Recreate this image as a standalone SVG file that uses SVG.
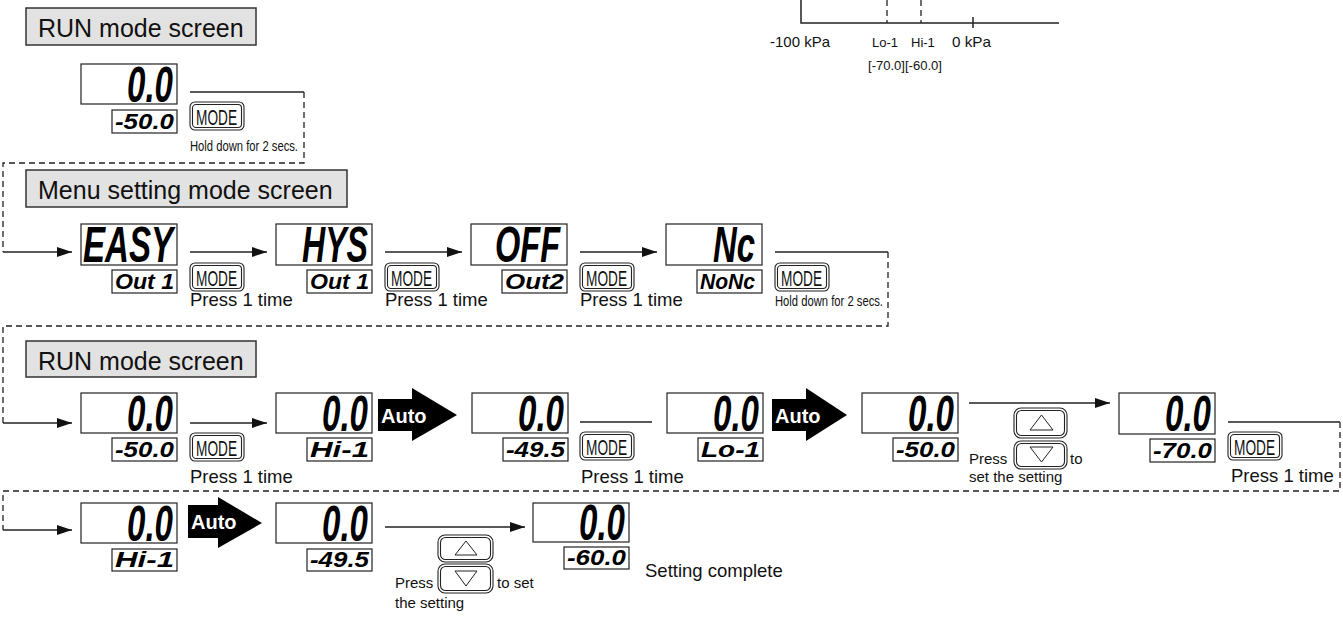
<svg xmlns="http://www.w3.org/2000/svg" width="1343" height="619" viewBox="0 0 1343 619">
<style>
  .lbl { fill: #e2e2e2; stroke: #333; stroke-width: 1.5; }
  .lbltxt { font-family: "Liberation Sans", Arial, sans-serif; font-size: 25px; fill: #111; }
  .box { fill: #fff; stroke: #222; stroke-width: 1.2; }
  .big { font-family: "Liberation Sans", Arial, sans-serif; font-weight: bold; font-style: italic; font-size: 34px; fill: #000; }
  .small { font-family: "Liberation Sans", Arial, sans-serif; font-weight: bold; font-style: italic; font-size: 22px; fill: #000; }
  .btn { fill: #fff; stroke: #222; stroke-width: 1.1; }
  .btntxt { font-family: "Liberation Sans", Arial, sans-serif; font-size: 22px; fill: #111; }
  .t18 { font-family: "Liberation Sans", Arial, sans-serif; font-size: 18.5px; fill: #111; }
  .t15 { font-family: "Liberation Sans", Arial, sans-serif; font-size: 15px; fill: #111; }
  .t13 { font-family: "Liberation Sans", Arial, sans-serif; font-size: 13px; fill: #111; }
  .hold { font-family: "Liberation Sans", Arial, sans-serif; font-size: 15px; fill: #111; }
  .ln { fill: none; stroke: #222; stroke-width: 1.5; }
  .dash { fill: none; stroke: #222; stroke-width: 1.3; stroke-dasharray: 6 4; }
  .auto { fill: #000; }
  .autotxt { font-family: "Liberation Sans", Arial, sans-serif; font-weight: bold; font-size: 20px; fill: #fff; }
  .tri { fill: #fff; stroke: #222; stroke-width: 1; }
</style>
<defs>
  <marker id="ah" markerUnits="userSpaceOnUse" markerWidth="15" markerHeight="10" refX="15" refY="5" orient="auto">
    <path d="M0,0 L15,5 L0,10 Z" fill="#111"/>
  </marker>
  <g id="modebtn">
    <rect x="0" y="0" width="54" height="28" rx="5" class="btn"/>
    <rect x="2.5" y="2.5" width="49" height="23" rx="3.5" class="btn"/>
    <text x="6" y="22.5" class="btntxt" textLength="41" lengthAdjust="spacingAndGlyphs">MODE</text>
  </g>
</defs>

<!-- top-right chart -->
<g id="chart">
  <path class="ln" d="M801,0 V23 H1059"/>
  <path class="dash" d="M887,0 V23 M921,0 V23"/>
  <path class="ln" d="M973,17 V28"/>
  <text x="770" y="47" class="t15" textLength="60" lengthAdjust="spacingAndGlyphs">-100 kPa</text>
  <text x="872" y="47" class="t13">Lo-1</text>
  <text x="911" y="47" class="t13">Hi-1</text>
  <text x="952" y="47" class="t15" textLength="39" lengthAdjust="spacingAndGlyphs">0 kPa</text>
  <text x="868" y="70" class="t13" textLength="74" lengthAdjust="spacingAndGlyphs">[-70.0][-60.0]</text>
</g>

<!-- section labels -->
<g id="label-run1"><rect x="26" y="8" width="230" height="37" class="lbl"/><text x="38" y="36.5" class="lbltxt">RUN mode screen</text></g>
<g id="label-menu"><rect x="26" y="170" width="321" height="37" class="lbl"/><text x="38" y="198.5" class="lbltxt">Menu setting mode screen</text></g>
<g id="label-run2"><rect x="26" y="341" width="230" height="36" class="lbl"/><text x="38" y="369.5" class="lbltxt">RUN mode screen</text></g>

<!-- connectors -->
<g id="connectors">
  <path class="ln" d="M190,92 H304"/>
  <path class="dash" d="M304,92 V163 H3 V252"/>
  <path class="ln" d="M3,252 H72" marker-end="url(#ah)"/>
  <path class="ln" d="M190,252 H267" marker-end="url(#ah)"/>
  <path class="ln" d="M385,252 H462" marker-end="url(#ah)"/>
  <path class="ln" d="M580,252 H657" marker-end="url(#ah)"/>
  <path class="ln" d="M775,252 H888"/>
  <path class="dash" d="M888,252 V326 H3 V423"/>
  <path class="ln" d="M3,423 H72" marker-end="url(#ah)"/>
  <path class="ln" d="M190,423 H267" marker-end="url(#ah)"/>
  <path class="ln" d="M580,422 H652"/>
  <path class="ln" d="M969,403 H1110" marker-end="url(#ah)"/>
  <path class="ln" d="M1228,422 H1340"/>
  <path class="dash" d="M1340,422 V491 H3 V530"/>
  <path class="ln" d="M3,530 H72" marker-end="url(#ah)"/>
  <path class="ln" d="M385,527 H525" marker-end="url(#ah)"/>
</g>

<!-- top RUN display -->
<g id="d-run-top">
  <rect x="81" y="64" width="96" height="40" class="box"/>
  <text transform="translate(127,102) scale(1,1.45)" class="big" textLength="46" lengthAdjust="spacingAndGlyphs">0.0</text>
  <rect x="112" y="110" width="65" height="23" class="box"/>
  <text x="115" y="129" class="small" textLength="59" lengthAdjust="spacingAndGlyphs">-50.0</text>
</g>
<g id="btn-top">
  <use href="#modebtn" x="190" y="102"/>
  <text x="190" y="151" class="hold" textLength="108" lengthAdjust="spacingAndGlyphs">Hold down for 2 secs.</text>
</g>

<!-- menu row -->
<g id="d-easy">
  <rect x="81" y="224" width="96" height="41" class="box"/>
  <text transform="translate(83,262) scale(1,1.45)" class="big" textLength="90" lengthAdjust="spacingAndGlyphs">EASY</text>
  <rect x="112" y="270" width="65" height="23" class="box"/>
  <text x="115" y="289" class="small" textLength="59" lengthAdjust="spacingAndGlyphs">Out 1</text>
</g>
<g id="btn-m1"><use href="#modebtn" x="190" y="263"/><text x="190" y="306" class="t18">Press 1 time</text></g>
<g id="d-hys">
  <rect x="276" y="224" width="96" height="41" class="box"/>
  <text transform="translate(302,262) scale(1,1.45)" class="big" textLength="66" lengthAdjust="spacingAndGlyphs">HYS</text>
  <rect x="307" y="270" width="65" height="23" class="box"/>
  <text x="310" y="289" class="small" textLength="59" lengthAdjust="spacingAndGlyphs">Out 1</text>
</g>
<g id="btn-m2"><use href="#modebtn" x="385" y="263"/><text x="385" y="306" class="t18">Press 1 time</text></g>
<g id="d-off">
  <rect x="471" y="224" width="96" height="41" class="box"/>
  <text transform="translate(495,262) scale(1,1.45)" class="big" textLength="65" lengthAdjust="spacingAndGlyphs">OFF</text>
  <rect x="502" y="270" width="65" height="23" class="box"/>
  <text x="505" y="289" class="small" textLength="59" lengthAdjust="spacingAndGlyphs">Out2</text>
</g>
<g id="btn-m3"><use href="#modebtn" x="580" y="263"/><text x="580" y="306" class="t18">Press 1 time</text></g>
<g id="d-nc">
  <rect x="666" y="224" width="96" height="41" class="box"/>
  <text transform="translate(713,262) scale(1,1.45)" class="big" textLength="42" lengthAdjust="spacingAndGlyphs">Nc</text>
  <rect x="697" y="270" width="65" height="23" class="box"/>
  <text x="700" y="289" class="small" textLength="55" lengthAdjust="spacingAndGlyphs">NoNc</text>
</g>
<g id="btn-m4"><use href="#modebtn" x="775" y="263"/><text x="775" y="306" class="hold" textLength="108" lengthAdjust="spacingAndGlyphs">Hold down for 2 secs.</text></g>

<!-- RUN row 3 -->
<g id="d-r3c1">
  <rect x="81" y="393" width="96" height="40" class="box"/>
  <text transform="translate(127,431) scale(1,1.45)" class="big" textLength="46" lengthAdjust="spacingAndGlyphs">0.0</text>
  <rect x="112" y="438" width="65" height="23" class="box"/>
  <text x="115" y="457" class="small" textLength="59" lengthAdjust="spacingAndGlyphs">-50.0</text>
</g>
<g id="btn-r3a"><use href="#modebtn" x="190" y="433"/><text x="190" y="483" class="t18">Press 1 time</text></g>
<g id="d-r3c2">
  <rect x="276" y="393" width="96" height="40" class="box"/>
  <text transform="translate(322,431) scale(1,1.45)" class="big" textLength="46" lengthAdjust="spacingAndGlyphs">0.0</text>
  <rect x="307" y="438" width="65" height="23" class="box"/>
  <text x="310" y="457" class="small" textLength="59" lengthAdjust="spacingAndGlyphs">Hi-1</text>
</g>
<g id="auto1">
  <polygon class="auto" points="378,399 412,399 412,388 457,415 412,441 412,431 378,431"/>
  <text x="381" y="423" class="autotxt">Auto</text>
</g>
<g id="d-r3c3">
  <rect x="472" y="393" width="96" height="40" class="box"/>
  <text transform="translate(518,431) scale(1,1.45)" class="big" textLength="46" lengthAdjust="spacingAndGlyphs">0.0</text>
  <rect x="503" y="438" width="65" height="23" class="box"/>
  <text x="506" y="457" class="small" textLength="59" lengthAdjust="spacingAndGlyphs">-49.5</text>
</g>
<g id="btn-r3b"><use href="#modebtn" x="580" y="432"/><text x="581" y="483" class="t18">Press 1 time</text></g>
<g id="d-r3c4">
  <rect x="667" y="393" width="96" height="40" class="box"/>
  <text transform="translate(713,431) scale(1,1.45)" class="big" textLength="46" lengthAdjust="spacingAndGlyphs">0.0</text>
  <rect x="698" y="438" width="65" height="23" class="box"/>
  <text x="701" y="457" class="small" textLength="59" lengthAdjust="spacingAndGlyphs">Lo-1</text>
</g>
<g id="auto2">
  <polygon class="auto" points="772,399 806,399 806,388 847,415 806,441 806,431 772,431"/>
  <text x="775" y="423" class="autotxt">Auto</text>
</g>
<g id="d-r3c5">
  <rect x="862" y="393" width="96" height="40" class="box"/>
  <text transform="translate(908,431) scale(1,1.45)" class="big" textLength="46" lengthAdjust="spacingAndGlyphs">0.0</text>
  <rect x="893" y="438" width="65" height="23" class="box"/>
  <text x="896" y="457" class="small" textLength="59" lengthAdjust="spacingAndGlyphs">-50.0</text>
</g>
<g id="updown1">
  <rect x="1014" y="408" width="53" height="30" rx="7" class="btn"/>
  <rect x="1016.5" y="410.5" width="48" height="25" rx="5" class="btn"/>
  <polygon class="tri" points="1030,430 1053,430 1041.5,415"/>
  <rect x="1014" y="441" width="53" height="28" rx="7" class="btn"/>
  <rect x="1016.5" y="443.5" width="48" height="23" rx="5" class="btn"/>
  <polygon class="tri" points="1030,447 1053,447 1041.5,462"/>
  <text x="969" y="464" class="t15">Press</text>
  <text x="1070" y="464" class="t15">to</text>
  <text x="969" y="482" class="t15">set the setting</text>
</g>
<g id="d-r3c6">
  <rect x="1119" y="393" width="96" height="41" class="box"/>
  <text transform="translate(1165,431) scale(1,1.45)" class="big" textLength="46" lengthAdjust="spacingAndGlyphs">0.0</text>
  <rect x="1150" y="439" width="65" height="23" class="box"/>
  <text x="1153" y="458" class="small" textLength="59" lengthAdjust="spacingAndGlyphs">-70.0</text>
</g>
<g id="btn-r3c"><use href="#modebtn" x="1228" y="432"/><text x="1231" y="482" class="t18">Press 1 time</text></g>

<!-- row 4 -->
<g id="d-r4c1">
  <rect x="81" y="503" width="96" height="40" class="box"/>
  <text transform="translate(127,541) scale(1,1.45)" class="big" textLength="46" lengthAdjust="spacingAndGlyphs">0.0</text>
  <rect x="112" y="549" width="65" height="22" class="box"/>
  <text x="115" y="567" class="small" textLength="59" lengthAdjust="spacingAndGlyphs">Hi-1</text>
</g>
<g id="auto3">
  <polygon class="auto" points="188,505 218,505 218,497 262,523 218,548 218,538 188,538"/>
  <text x="191" y="529" class="autotxt">Auto</text>
</g>
<g id="d-r4c2">
  <rect x="276" y="503" width="96" height="40" class="box"/>
  <text transform="translate(322,541) scale(1,1.45)" class="big" textLength="46" lengthAdjust="spacingAndGlyphs">0.0</text>
  <rect x="307" y="549" width="65" height="22" class="box"/>
  <text x="310" y="567" class="small" textLength="59" lengthAdjust="spacingAndGlyphs">-49.5</text>
</g>
<g id="updown2">
  <rect x="438" y="535" width="55" height="27" rx="7" class="btn"/>
  <rect x="440.5" y="537.5" width="50" height="22" rx="5" class="btn"/>
  <polygon class="tri" points="455,555 477,555 466,541"/>
  <rect x="438" y="564" width="55" height="29" rx="7" class="btn"/>
  <rect x="440.5" y="566.5" width="50" height="24" rx="5" class="btn"/>
  <polygon class="tri" points="455,571 477,571 466,586"/>
  <text x="395" y="588" class="t15">Press</text>
  <text x="497" y="588" class="t15">to set</text>
  <text x="395" y="608" class="t15">the setting</text>
</g>
<g id="d-r4c3">
  <rect x="533" y="503" width="96" height="39" class="box"/>
  <text transform="translate(579,540) scale(1,1.45)" class="big" textLength="46" lengthAdjust="spacingAndGlyphs">0.0</text>
  <rect x="564" y="547" width="65" height="22" class="box"/>
  <text x="567" y="565" class="small" textLength="59" lengthAdjust="spacingAndGlyphs">-60.0</text>
  <text x="645" y="577" class="t18">Setting complete</text>
</g>
</svg>
